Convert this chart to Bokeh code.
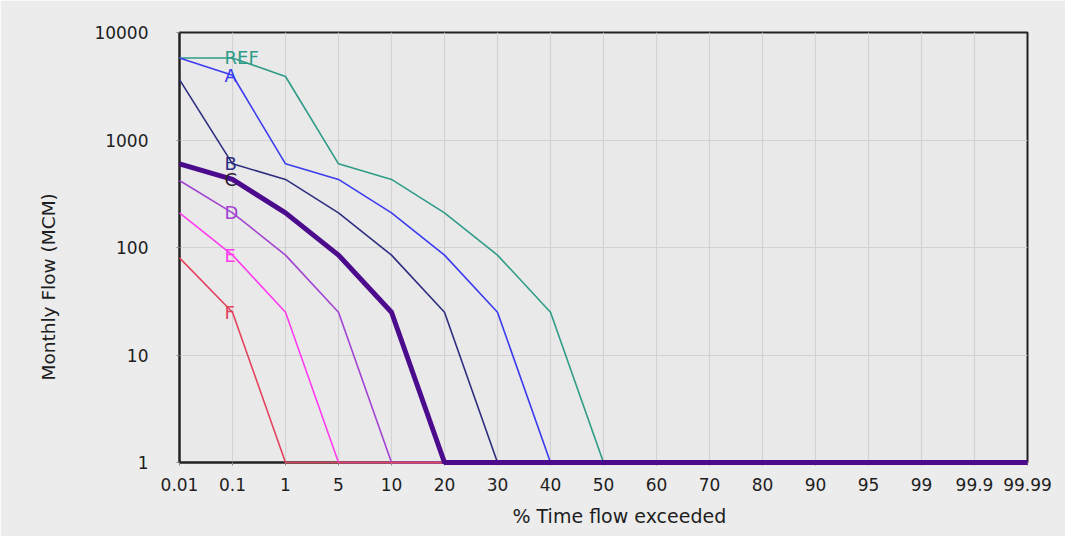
import math
from bokeh.plotting import figure
from bokeh.models import FixedTicker, NumeralTickFormatter, Title, ColumnDataSource, Range1d
from bokeh.core.properties import value
from bokeh.embed import file_html
from bokeh.resources import INLINE

x_labels = ["0.01", "0.1", "1", "5", "10", "20", "30", "40", "50", "60",
            "70", "80", "90", "95", "99", "99.9", "99.99"]

ref = [5800, 5800, 3900, 600, 430, 210, 85, 25, 1, 1, 1, 1, 1, 1, 1, 1, 1]
a = [5800, 4000, 600, 430, 210, 85, 25, 1, 1, 1, 1, 1, 1, 1, 1, 1, 1]
b = [3650, 600, 430, 210, 85, 25, 1, 1, 1, 1, 1, 1, 1, 1, 1, 1, 1]
c = [600, 430, 210, 85, 25, 1, 1, 1, 1, 1, 1, 1, 1, 1, 1, 1, 1]
d = [420, 210, 85, 25, 1, 1, 1, 1, 1, 1, 1, 1, 1, 1, 1, 1, 1]
e = [210, 85, 25, 1, 1, 1, 1, 1, 1, 1, 1, 1, 1, 1, 1, 1, 1]
f = [80, 25, 1, 1, 1, 1, 1, 1, 1, 1, 1, 1, 1, 1, 1, 1, 1]

series_names = ["REF", "A", "B", "D", "E", "F", "C"]
series_values = [ref, a, b, d, e, f, c]
series_colors = ["#2f9c88", "#3b3bf0", "#2e2e80", "#a243d2", "#ff3cf0", "#e2435e", "#4b0b8c"]
series_widths = [1.6, 1.6, 1.6, 1.6, 1.6, 1.6, 5]
label_colors = ["#2f9c88", "#3b3bf0", "#2e2e80", "#a243d2", "#ff3cf0", "#e2435e", "#2a2230"]

xs = list(range(len(x_labels)))
FONT = "DejaVu Sans"

p = figure(output_backend="svg", toolbar_location=None,
           frame_width=848, frame_height=430,
           min_border_left=179, min_border_right=38, min_border_top=32, min_border_bottom=72,
           y_axis_type="log",
           x_range=Range1d(0, len(x_labels) - 1), y_range=Range1d(1, 10000))

p.background_fill_color = "#e9e9e9"
p.border_fill_color = "#ececec"
p.outline_line_color = "#222222"
p.outline_line_width = 2

for name, vals, col, w in zip(series_names, series_values, series_colors, series_widths):
    p.line(xs, vals, line_color=col, line_width=w, level="overlay")

lab_src = ColumnDataSource(dict(
    x=[1] * len(series_names),
    y=[v[1] for v in series_values],
    text=series_names,
    color=label_colors,
))
p.text(x="x", y="y", text="text", source=lab_src, text_color="color",
       text_font=value(FONT), text_font_size="18px", text_align="left",
       text_baseline="middle", x_offset=-8, level="overlay")

p.xaxis.ticker = FixedTicker(ticks=xs)
p.xaxis.major_label_overrides = {i: s for i, s in enumerate(x_labels)}
p.yaxis.ticker = FixedTicker(ticks=[1, 10, 100, 1000, 10000])
p.yaxis.formatter = NumeralTickFormatter(format="0")

for ax in (p.xaxis[0], p.yaxis[0]):
    ax.axis_line_color = "#222222"
    ax.axis_line_width = 2
    ax.major_tick_line_color = "#888888"
    ax.major_tick_out = 3
    ax.major_tick_in = 0
    ax.minor_tick_line_color = None
    ax.major_label_text_font = FONT
    ax.major_label_text_font_size = "17px"
    ax.major_label_text_color = "#1e1e1e"

p.xaxis.major_label_standoff = 12
p.yaxis.major_label_standoff = 28

p.xgrid.grid_line_color = "#d2d2d2"
p.ygrid.grid_line_color = "#d2d2d2"
p.xgrid.grid_line_width = 1.2
p.ygrid.grid_line_width = 1.2

p.add_layout(Title(text="% Time flow exceeded", text_font=FONT, text_font_size="19px",
                   text_font_style="normal", text_color="#1e1e1e",
                   align="left", offset=333, standoff=19), "below")
p.add_layout(Title(text="Monthly Flow (MCM)", text_font=FONT, text_font_size="18.5px",
                   text_font_style="normal", text_color="#1e1e1e", vertical_align="top",
                   align="left", offset=82, standoff=62), "left")

open("out.html", "w").write(file_html(p, INLINE))
